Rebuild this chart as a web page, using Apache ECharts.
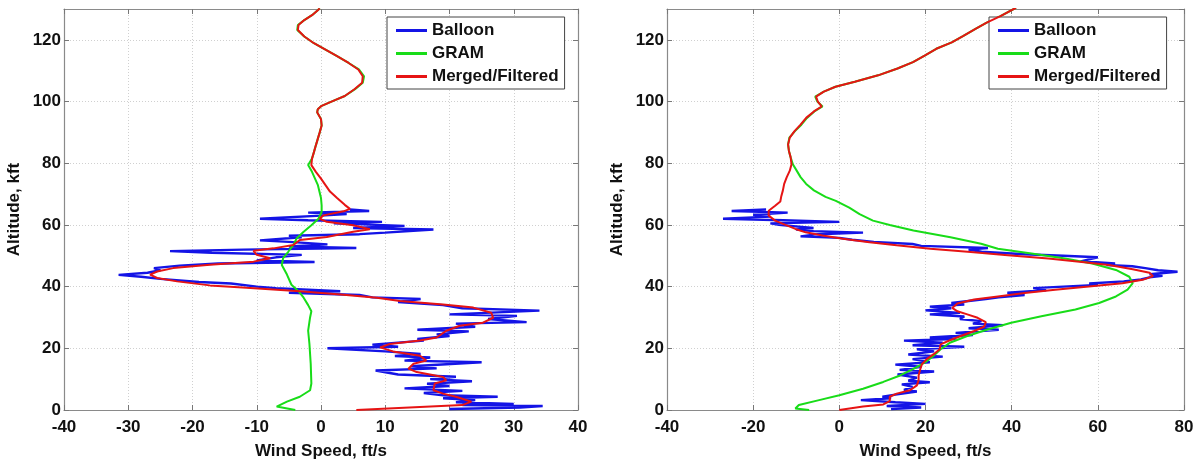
<!DOCTYPE html>
<html>
<head>
<meta charset="utf-8">
<script src="https://cdn.jsdelivr.net/npm/echarts@6/dist/echarts.min.js"></script>
<style>
  html, body { margin: 0; padding: 0; background: #fff; }
  #chart { width: 1204px; height: 465px; }
</style>
</head>
<body>
<div id="chart"></div>
<script>
// [wind speed ft/s, altitude kft]
var leftBalloon = [
  [20,0.3],[31,0.8],[34.5,1.3],[22,1.6],[30,2.0],[21,2.5],[24,3.2],[19,3.8],[27.5,4.3],[19,4.8],
  [16,5.5],[22,6.2],[13,7],[20,7.8],[16.5,8.5],[23.5,9.3],[17,10],[21,10.8],[12,11.5],[8.5,12.8],
  [18,13.5],[14,14.2],[25,15.5],[13,16],[17,17],[11.5,17.5],[15.5,18.2],[10,19],[1,20],[12,20.5],
  [8,21.2],[16,22.5],[15,23],[20,24],[18,24.5],[23,25.5],[15,26],[24,27],[21,28],[32,28.5],
  [26,29.5],[30.5,30.5],[20,31],[34,32.2],[22,33],[19,34],[12,35],[15.5,36],[8,36.5],[6,37.3],
  [-5,38],[3,38.5],[-7,39.5],[-10,40],[-14,41],[-19,41.5],[-25,42.5],[-28,43.2],[-31.5,43.8],[-27,44.5],
  [-25,45.3],[-26,46],[-22,46.8],[-16,47.5],[-1,48],[-10,48.5],[-7,49.5],[-3,50.3],[-17,51],[-23.5,51.5],
  [-12,52],[5.5,52.5],[-5,53],[1,53.7],[-5,54.5],[-9.5,55],[-3,56],[-5,56.5],[6,57],[10,57.5],
  [17.5,58.5],[5,59],[13,59.7],[2,60.5],[9.5,61],[-2,61.5],[-9.5,62],[0,63],[4,63.5],[-2,64],
  [7.5,64.5],[4.5,65]
];
var leftGram = [
  [-4,0],[-6.9,1.1],[-5.3,2.7],[-3.3,4.3],[-1.7,6.4],[-1.5,8.6],[-1.6,15],[-1.8,21.4],[-2,25.7],[-1.7,30],
  [-1.5,32],[-2,34],[-2.7,36.4],[-3.5,38.5],[-4.6,40.6],[-5.3,43.9],[-6.1,47],[-5.9,49.2],[-5.1,51.3],[-4.3,53.5],
  [-3.8,55.6],[-2.7,57.8],[-1.5,59.9],[-0.4,62],[0.1,64.2],[0.1,66.3],[0,68.7],[-0.5,73],[-1.4,77.2],[-2,79.4],
  [-1.4,81.5],[-1.1,83.6],[-0.8,85.8],[-0.5,87.9],[-0.2,90],[0.1,92.2],[0,94.3],[-0.6,96.5],[-0.5,97.5],[0.1,98.6],
  [1.9,100.2],[3.7,101.8],[5.3,104],[6.5,106.1],[6.7,108.2],[5.9,110.4],[4.3,112.5],[2.5,114.7],[0.7,116.8],[-1.1,118.9],
  [-2.6,121.1],[-3.7,123.2],[-3.6,124.8],[-2.6,126.4],[-1.4,128],[-0.5,129.6],[-0.2,130.2]
];
var leftMerged = [
  [5.5,0],[22,1.6],[23.4,2.7],[21,4.3],[19,5.3],[17.5,6.4],[17.7,8.6],[19.5,9.6],[19,10.7],[14.9,12.3],
  [13.6,13.4],[14.4,15],[16.4,16],[15.4,17.6],[11.2,19],[9.2,20.3],[10.7,21.4],[15.4,22.5],[18,23.5],[19.5,25.7],
  [21.6,27.3],[25.2,28.3],[26.8,29.9],[26.5,31.5],[23.7,33.2],[19,34.2],[12.3,35.3],[8.7,36.4],[3.5,37.4],[-3.3,38.5],
  [-11.6,39.6],[-17.3,40.4],[-22.4,41.7],[-25.5,42.8],[-26.6,43.9],[-25.5,44.9],[-23,46],[-17.3,47.1],[-10.5,48.1],[-7.9,49.2],
  [-10,50.3],[-10.5,51.6],[-7.4,52.4],[-4.3,53.5],[-3.3,55.1],[0.9,56.1],[5,57.8],[7.6,58.6],[5,59.9],[0.9,61],
  [-0.2,62],[0.4,63.1],[3.5,64.4],[4.5,65.2],[3.7,66.5],[2.5,68.7],[1.4,70.8],[0.7,72.9],[0,75],[-0.8,77.2],
  [-1.5,79.4],[-1.4,81.5],[-1.1,83.6],[-0.8,85.8],[-0.5,87.9],[-0.2,90],[0.1,92.2],[0,94.3],[-0.6,96.5],[-0.5,97.5],
  [0.1,98.6],[1.9,100.2],[3.7,101.8],[5.2,104],[6.4,106.1],[6.5,108.2],[5.8,110.4],[4.3,112.5],[2.5,114.7],[0.7,116.8],
  [-1.1,118.9],[-2.6,121.1],[-3.6,123.2],[-3.5,124.8],[-2.6,126.4],[-1.4,128],[-0.5,129.6],[-0.2,130.2]
];

var rightBalloon = [
  [12,0.3],[19,0.8],[11,1.3],[20,2],[13,2.5],[5,3.2],[12,3.8],[10,4.3],[13,5],[18,6],
  [15,6.5],[17,7.5],[14.5,8.3],[21,9],[16,9.5],[18,10.5],[13.5,11.5],[22,12.5],[14,13],[19,14],
  [13,14.7],[21,15.5],[17,16.5],[24,17.3],[16,18],[22,19],[18,19.7],[29,20.5],[17,21],[24,21.8],
  [15,22.5],[27,23],[21,23.5],[31,24.3],[27,25],[37,26],[30,26.5],[38,27.5],[31,28],[33,28.8],
  [28,29.5],[29,30.3],[21,31],[28,31.5],[20,32.3],[26,33],[21,33.5],[29,34.2],[26,34.7],[31,35.5],
  [34,36],[37,36.5],[43,37.3],[39,38],[48,38.8],[45,39.5],[52,40],[60,40.5],[58,41],[66,41.7],
  [70,42.3],[72,43],[75,43.5],[72,44],[78.5,44.8],[74,45.3],[71,46],[68,46.6],[62,47],[64,47.5],
  [56,48.2],[60,49.5],[52,50],[43,50.5],[33,51.3],[30,52],[34.5,52.5],[19,53.2],[17,53.8],[8,54.5],
  [3,55.2],[0,55.8],[-9,56.3],[-5,57],[5.5,57.5],[-6,58],[-10,58.5],[-6,59],[-14,60],[-16,60.5],
  [0,61],[-13,61.5],[-27,62],[-16,62.7],[-20,63.3],[-12,64],[-25,64.5],[-17,65]
];
var rightGram = [
  [-7,0],[-10.2,0.5],[-9.4,1.6],[-4.7,3.2],[0,4.8],[5.5,6.9],[10.2,9.1],[14.1,11.2],[17.2,13.3],[20,15.5],
  [21.9,17.6],[23.5,19.7],[25.8,21.9],[29.7,24],[34.4,26.1],[39.9,28.3],[46.9,30.4],[54.8,32.6],[60.3,34.7],[64.2,36.8],
  [66.9,39],[68.1,41.1],[67.3,43.2],[64.2,45.4],[58.7,47.5],[52.4,49.1],[44.6,50.7],[36.8,52.3],[32.9,53.9],[25.8,56],
  [17.2,58.2],[11.7,60],[7.8,61.4],[4.7,63.5],[2.3,65.6],[-0.8,67.8],[-3.2,69.1],[-5.9,71.2],[-7.7,73.3],[-9,75.5],
  [-9.9,77.6],[-10.8,79.7],[-11.3,81.9],[-11.7,84],[-11.9,86.1],[-11.6,88.3],[-10.3,90.4],[-8.8,92.5],[-7.5,94.7],[-5.8,96.8],
  [-3.9,98.4],[-5.1,100],[-5.6,101.6],[-3.6,103.2],[-0.9,104.8],[3.6,106.4],[9,108.5],[13.5,110.7],[17.1,112.8],[19.8,114.9],
  [22.5,117.1],[26.1,119.2],[28.8,121.3],[31.5,123.5],[34.2,125.6],[37.4,127.7],[41,130.4]
];
var rightMerged = [
  [0,0],[5.5,1.1],[10.2,1.8],[11.7,2.9],[11.7,4.3],[13.3,5.3],[16.4,6.4],[18,8],[18.4,9.6],[18.4,11.2],
  [18.8,13.3],[19.2,14.9],[20.3,16.5],[21.9,18.1],[23.3,19.7],[23.5,21.3],[25.8,22.7],[28.2,24],[31.3,25.6],[33.6,27],
  [34,28.5],[32.1,29.9],[29.7,31],[27.4,32],[26.2,33.1],[27.4,34.5],[31.3,35.8],[36.8,36.8],[43,37.9],[50.1,39],
  [57.9,40],[65.7,41.1],[70.4,42.2],[72.8,43.4],[72,44.5],[68.1,45.6],[62.6,47],[56.3,48],[48.5,49.1],[39.1,50.2],
  [30.5,51.2],[21.1,52.3],[13.3,53.4],[7,54.4],[0.8,55.5],[-3.9,56.6],[-7.8,57.6],[-10.2,58.7],[-12.5,60],[-14.9,61.4],
  [-16.4,63],[-16.4,64.6],[-14.9,66.2],[-13.7,67.6],[-13.5,69.1],[-13.1,71.2],[-12.8,73.3],[-12.2,75.5],[-11.5,77.6],[-11.1,79.7],
  [-11.3,81.9],[-11.7,84],[-11.9,86.1],[-11.5,88.3],[-10.4,90.4],[-9,92.5],[-7.7,94.7],[-5.9,96.8],[-4.1,98.4],[-5,100],
  [-5.4,101.6],[-3.6,103.2],[-0.9,104.8],[3.6,106.4],[9,108.5],[13.5,110.7],[17.1,112.8],[19.8,114.9],[22.5,117.1],[26.1,119.2],
  [28.8,121.3],[31.5,123.5],[34.2,125.6],[37.4,127.7],[41,130.4]
];

var seriesNames = ['Balloon', 'GRAM', 'Merged/Filtered'];
var seriesColors = ['#1414e6', '#18dc18', '#e61414'];

var chart = echarts.init(document.getElementById('chart'), null, { renderer: 'canvas' });

var font = { fontFamily: 'Liberation Sans, Arial, sans-serif', fontWeight: 'bold', fontSize: 17, color: '#111' };
var frameLine = { show: true, onZero: false, lineStyle: { color: '#8a8a8a', width: 1.2 } };
var innerTick = { show: true, inside: true, length: 5, lineStyle: { color: '#777' } };
var grid = { show: true, lineStyle: { color: '#d0d0d0', type: [1, 2], width: 1 } };

function mainX(idx, min, max, step) {
  return {
    type: 'value', gridIndex: idx, min: min, max: max, interval: step, position: 'bottom',
    axisLine: frameLine, axisTick: innerTick, splitLine: grid,
    axisLabel: Object.assign({ margin: 9 }, font),
    name: 'Wind Speed, ft/s', nameLocation: 'middle', nameGap: 33,
    nameTextStyle: font
  };
}
function topX(idx, min, max, step) {
  return {
    type: 'value', gridIndex: idx, min: min, max: max, interval: step, position: 'top',
    axisLine: frameLine, axisTick: innerTick, splitLine: { show: false }, axisLabel: { show: false }
  };
}
function mainY(idx) {
  return {
    type: 'value', gridIndex: idx, min: 0, max: 130, interval: 20, position: 'left',
    axisLine: frameLine, axisTick: innerTick, splitLine: grid,
    axisLabel: Object.assign({ margin: 3, showMaxLabel: false }, font),
    name: 'Altitude, kft', nameLocation: 'middle', nameGap: 41,
    nameTextStyle: font
  };
}
function rightY(idx) {
  return {
    type: 'value', gridIndex: idx, min: 0, max: 130, interval: 20, position: 'right',
    axisLine: frameLine, axisTick: innerTick, splitLine: { show: false }, axisLabel: { show: false }
  };
}

function lines(axisIdx, datasets) {
  return datasets.map(function (d, i) {
    return {
      name: seriesNames[i], type: 'line', xAxisIndex: axisIdx, yAxisIndex: axisIdx,
      data: d, symbol: 'none', smooth: false, z: 2 + i,
      lineStyle: { color: seriesColors[i], width: i === 0 ? 2.4 : 2 },
      itemStyle: { color: seriesColors[i] }
    };
  });
}

function legendAt(left) {
  return {
    left: left, top: 17, orient: 'vertical', data: seriesNames,
    icon: 'rect', itemWidth: 31, itemHeight: 3, itemGap: 6,
    padding: [5, 6, 4, 9],
    borderColor: '#444', borderWidth: 1, backgroundColor: '#fff',
    textStyle: { fontFamily: 'Liberation Sans, Arial, sans-serif', fontWeight: 'bold', fontSize: 17, color: '#111' }
  };
}

var option = {
  animation: false,
  backgroundColor: '#fff',
  grid: [
    { left: 64, right: 626, top: 9, bottom: 52 },
    { left: 667, right: 20, top: 9, bottom: 50 }
  ],
  xAxis: [
    mainX(0, -40, 40, 10), topX(0, -40, 40, 10),
    mainX(1, -40, 80, 20), topX(1, -40, 80, 20)
  ],
  yAxis: [
    mainY(0), rightY(0),
    mainY(1), rightY(1)
  ],
  legend: [legendAt(387), legendAt(989)],
  series: lines(0, [leftBalloon, leftGram, leftMerged])
    .concat(lines(2, [rightBalloon, rightGram, rightMerged]))
};

chart.setOption(option);
</script>
</body>
</html>
